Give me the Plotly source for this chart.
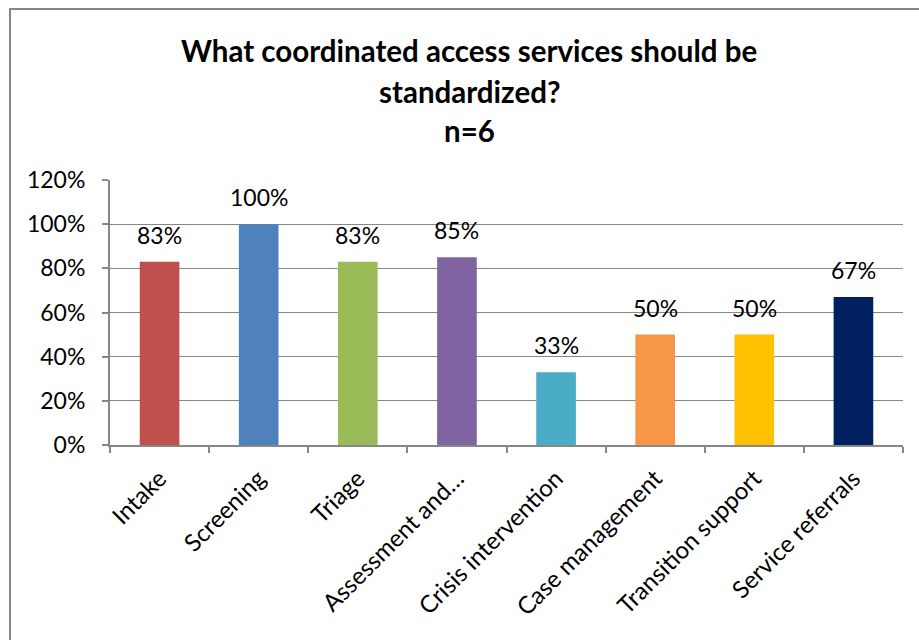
import plotly.graph_objects as go

categories = ["Intake", "Screening", "Triage", "Assessment and…", "Crisis intervention",
              "Case management", "Transition support", "Service referrals"]
values = [83, 100, 83, 85, 33, 50, 50, 67]
labels = ["83%", "100%", "83%", "85%", "33%", "50%", "50%", "67%"]
colors = ["#C0504D", "#4F81BD", "#9BBB59", "#8064A2", "#4BACC6", "#F79646", "#FFC000", "#002060"]
title_lines = ["What coordinated access services should be", "standardized?", "n=6"]
ytick_vals = [0, 20, 40, 60, 80, 100, 120]
ytick_text = ["0%", "20%", "40%", "60%", "80%", "100%", "120%"]

W, H = 919, 640
L, R, T, B = 110, 16, 180, 195
pw, ph = W - L - R, H - T - B

def px_x(x):
    return (x - L) / pw

def px_y(y):
    return (H - B - y) / ph

FONT = "Lato, Carlito, Calibri, sans-serif"
GRAY = "#878787"

fig = go.Figure()
fig.add_trace(go.Bar(x=categories, y=values, marker=dict(color=colors, line=dict(width=0)),
                     width=0.4, hoverinfo="skip"))

annotations = []
for c, v, t in zip(categories, values, labels):
    annotations.append(dict(x=c, y=v, xref="x", yref="y", text=t, showarrow=False,
                            yanchor="bottom", yshift=11, font=dict(family=FONT, size=23, color="#000")))
for i, (line, ypx) in enumerate(zip(title_lines, [50, 91, 130])):
    annotations.append(dict(x=px_x(469), y=px_y(ypx), xref="paper", yref="paper", text="<b>" + line + "</b>",
                            showarrow=False, xanchor="center", yanchor="middle",
                            font=dict(family=FONT, size=29.5, color="#000")))

fig.update_layout(
    width=W, height=H,
    margin=dict(l=L, r=R, t=T, b=B),
    paper_bgcolor="white", plot_bgcolor="white",
    showlegend=False,
    annotations=annotations,
    shapes=[dict(type="rect", xref="paper", yref="paper",
                 x0=px_x(10), y0=px_y(700), x1=px_x(1000), y1=px_y(9),
                 line=dict(color=GRAY, width=2), fillcolor="rgba(0,0,0,0)", layer="below")],
    xaxis=dict(type="category", showline=True, linecolor=GRAY, linewidth=2,
               ticks="outside", tickson="boundaries", ticklen=6, tickcolor=GRAY, tickwidth=2,
               tickangle=-45, tickfont=dict(family=FONT, size=24, color="#000"),
               showgrid=False, ticklabelstandoff=8),
    yaxis=dict(range=[0, 120], tickvals=ytick_vals, ticktext=ytick_text,
               showline=True, linecolor=GRAY, linewidth=2, ticks="outside", ticklen=6,
               tickcolor=GRAY, tickwidth=2, showgrid=True, gridcolor=GRAY, gridwidth=1.2,
               tickfont=dict(family=FONT, size=23, color="#000"), ticklabelstandoff=12,
               zeroline=False),
)

fig.write_html("out.html")
